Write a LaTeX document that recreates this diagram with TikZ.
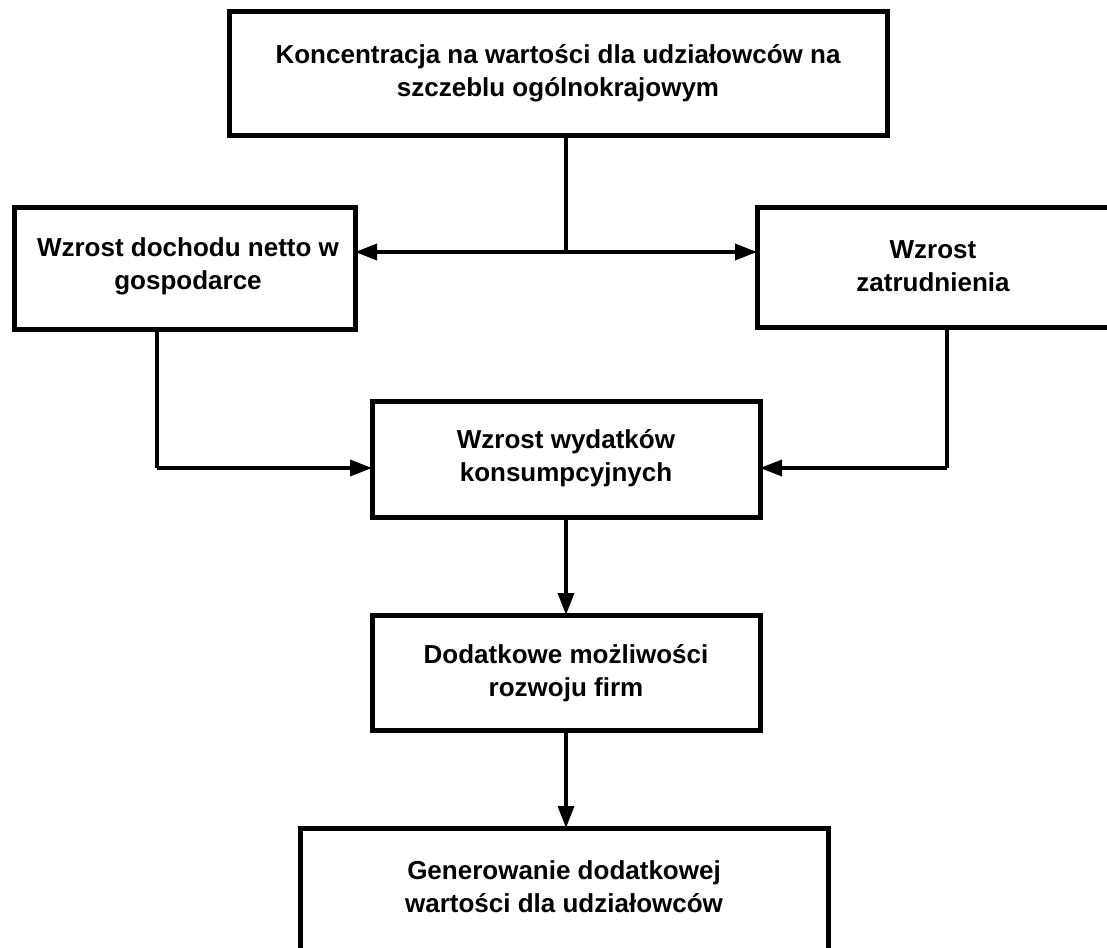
\documentclass[tikz,border=0pt]{standalone}
\usepackage{fontspec}
\setmainfont{Liberation Sans}
\usetikzlibrary{arrows.meta}
\begin{document}
\begin{tikzpicture}[x=1pt,y=-1pt,
  box/.style={draw=black,line width=5pt,rectangle,inner sep=0pt,outer sep=0pt},
  label/.style={align=center,font=\fontsize{26}{33}\selectfont\bfseries,inner sep=0pt},
  conn/.style={draw=black,line width=3.5pt},
  arr/.style={conn,-{Triangle[length=22pt,width=16pt]}}]
\useasboundingbox (0,0) rectangle (1107,947);
\clip (0,0) rectangle (1107,947);

% boxes; the right and the bottom one run past the page edge
\node[box,minimum width=658pt,minimum height=123pt,anchor=north west] (top) at (229,12) {};
\node[box,minimum width=341pt,minimum height=122pt,anchor=north west] (inc) at (14,207) {};
\node[box,minimum width=356pt,minimum height=120pt,anchor=north west] (emp) at (757,207) {};
\node[box,minimum width=388pt,minimum height=116pt,anchor=north west] (cons) at (372,401) {};
\node[box,minimum width=388pt,minimum height=115pt,anchor=north west] (opp) at (372,615) {};
\node[box,minimum width=528pt,minimum height=150pt,anchor=north west] (gen) at (300,828) {};

% texts
\node[label] (toptxt) at (558,73.5) {Koncentracja na wartości dla udziałowców na\\szczeblu ogólnokrajowym};
\node[label] (inctxt) at (188,266.5) {Wzrost dochodu netto w\\gospodarce};
\node[label] (emptxt) at (933,266.5) {Wzrost\\zatrudnienia};
\node[label] (constxt) at (566,458.5) {Wzrost wydatków\\konsumpcyjnych};
\node[label] (opptxt) at (566,673.5) {Dodatkowe możliwości\\rozwoju firm};
\node[label] (gentxt) at (564,886.5) {Generowanie dodatkowej\\wartości dla udziałowców};

% connectors
\coordinate (split) at (566,252);
\coordinate (lcorner) at (157,468);
\coordinate (rcorner) at (947,468);
\draw[conn] (top.south -| split) -- (split);
\draw[arr] (split) -- (split -| inc.east);
\draw[arr] (split) -- (split -| emp.west);
\draw[conn] (inc.south -| lcorner) -- (lcorner);
\draw[arr] (lcorner) -- (lcorner -| cons.west);
\draw[conn] (emp.south -| rcorner) -- (rcorner);
\draw[arr] (rcorner) -- (rcorner -| cons.east);
\draw[arr] (cons.south -| split) -- (opp.north -| split);
\draw[arr] (opp.south -| split) -- (gen.north -| split);
\end{tikzpicture}
\end{document}
